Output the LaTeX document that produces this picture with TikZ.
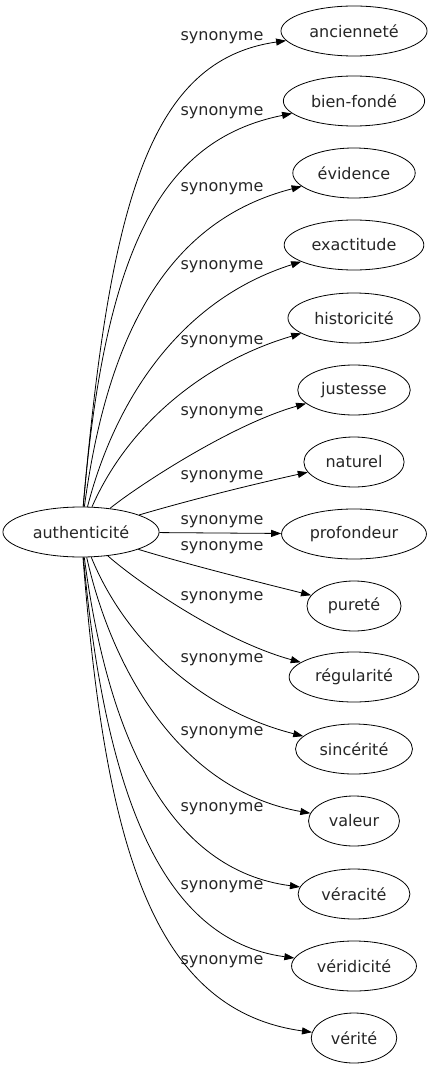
\documentclass[tikz,border=0pt]{standalone}
\usepackage{fontspec}
\setmainfont{DejaVu Sans}
\usetikzlibrary{arrows.meta,shapes.geometric}
\begin{document}
\begin{tikzpicture}[x=1pt,y=-1pt,
  every node/.style={font=\fontsize{16}{19}\selectfont, text=black!85},
  word/.style={draw, ellipse, line width=0.8pt, minimum height=50pt, inner xsep=7pt, inner ysep=0pt},
  rel/.style={inner sep=0pt},
  link/.style={line width=0.8pt, -{Triangle[length=10pt,width=7pt]}}]
\useasboundingbox (0,0) rectangle (431,1067);
\node[word] (auth) at (81,532) {authenticité};
\node[word] (t1) at (354,31) {ancienneté};
\node[word] (t2) at (354,101) {bien-fondé};
\node[word] (t3) at (354,173) {évidence};
\node[word] (t4) at (354,245) {exactitude};
\node[word] (t5) at (354,318) {historicité};
\node[word] (t6) at (354,390) {justesse};
\node[word] (t7) at (354,462) {naturel};
\node[word] (t8) at (354,534) {profondeur};
\node[word] (t9) at (354,606) {pureté};
\node[word] (t10) at (354,677) {régularité};
\node[word] (t11) at (354,749) {sincérité};
\node[word] (t12) at (354,821) {valeur};
\node[word] (t13) at (354,894) {véracité};
\node[word] (t14) at (354,966) {véridicité};
\node[word] (t15) at (354,1038) {vérité};

\node[rel] (l1) at (222,38) {synonyme};
\node[rel] (l2) at (222,113) {synonyme};
\node[rel] (l3) at (222,189) {synonyme};
\node[rel] (l4) at (222,267) {synonyme};
\node[rel] (l5) at (222,342) {synonyme};
\node[rel] (l6) at (222,413) {synonyme};
\node[rel] (l7) at (222,477) {synonyme};
\node[rel] (l8) at (222,522) {synonyme};
\node[rel] (l9) at (222,548) {synonyme};
\node[rel] (l10) at (222,598) {synonyme};
\node[rel] (l11) at (222,660) {synonyme};
\node[rel] (l12) at (222,733) {synonyme};
\node[rel] (l13) at (222,809) {synonyme};
\node[rel] (l14) at (222,887) {synonyme};
\node[rel] (l15) at (222,962) {synonyme};

\draw[link] (auth) .. controls (110,200) and (150,60) .. (t1);
\draw[link] (auth) .. controls (105,250) and (160,140) .. (t2);
\draw[link] (auth) .. controls (108,330) and (170,220) .. (t3);
\draw[link] (auth) .. controls (115,400) and (180,300) .. (t4);
\draw[link] (auth) .. controls (130,420) and (210,360) .. (t5);
\draw[link] (auth) .. controls (135,488) and (230,425) .. (t6);
\draw[link] (auth) .. controls (190,500) and (250,485) .. (t7);
\draw[link] (auth) -- (t8);
\draw[link] (auth) .. controls (190,565) and (250,580) .. (t9);
\draw[link] (auth) .. controls (135,580) and (220,640) .. (t10);
\draw[link] (auth) .. controls (125,640) and (200,710) .. (t11);
\draw[link] (auth) .. controls (112,670) and (180,790) .. (t12);
\draw[link] (auth) .. controls (108,740) and (170,870) .. (t13);
\draw[link] (auth) .. controls (105,790) and (160,940) .. (t14);
\draw[link] (auth) .. controls (105,840) and (150,1010) .. (t15);
\end{tikzpicture}
\end{document}
